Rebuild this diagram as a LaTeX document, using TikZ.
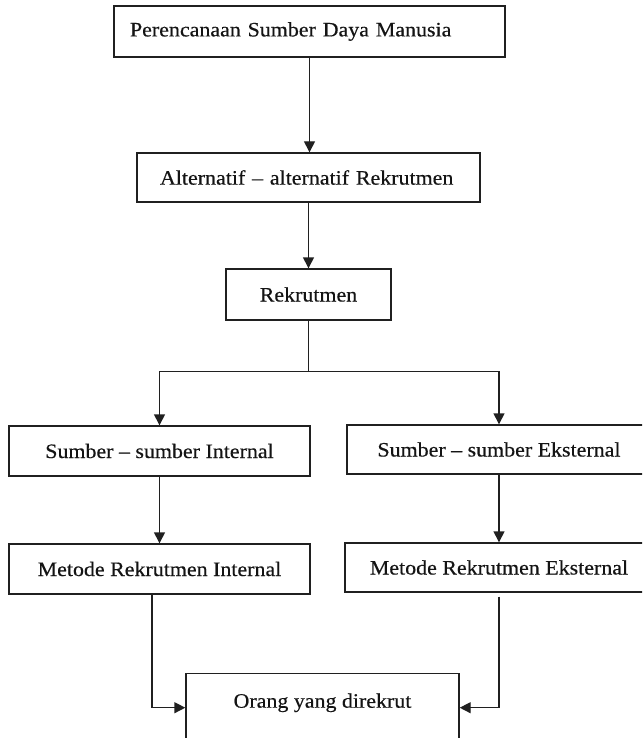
\documentclass[tikz,border=0pt]{standalone}
\usepackage{fontspec}
\setmainfont[FakeStretch=1.07, FakeBold=0.4]{Liberation Serif}
\usepackage{tikz}
\usetikzlibrary{arrows.meta}
\definecolor{ink}{HTML}{141414}
\definecolor{edge}{HTML}{202020}

\begin{document}
\begin{tikzpicture}[x=1pt, y=-1pt,
  box/.style={draw=edge, line width=1.4pt, text=ink, inner sep=0pt, font=\fontsize{20.5}{24}\selectfont},
  link/.style={draw=edge, line width=1.4pt},
  flow/.style={link, -{Triangle[length=11pt,width=11pt]}}]
  \useasboundingbox (0,0) rectangle (642,738);
  \clip (0,0) rectangle (642,738);
  \node[box, inner xsep=16pt, text width=359pt, minimum height=51pt, align=left] (plan) at (309.5,31.5) {Perencanaan Sumber Daya Manusia};
  \node[box, inner xsep=23pt, text width=297pt, minimum height=49pt, align=left] (alt) at (308.5,177.5) {Alternatif -- alternatif Rekrutmen};
  \node[box, minimum width=165pt, minimum height=51pt] (rec) at (308.5,294.5) {Rekrutmen};
  \node[box, minimum width=301pt, minimum height=50pt] (srcin) at (159.5,451) {Sumber -- sumber Internal};
  \node[box, minimum width=304pt, minimum height=49pt] (srcex) at (499,449.5) {Sumber -- sumber Eksternal};
  \node[box, minimum width=301pt, minimum height=50pt] (metin) at (159.5,569) {Metode Rekrutmen Internal};
  \node[box, minimum width=308pt, minimum height=49pt] (metex) at (499,567.5) {Metode Rekrutmen Eksternal};
  \node[box, anchor=north, minimum width=273pt, inner ysep=20pt, text height=14pt, text depth=40pt] (hired) at (322.5,673) {Orang yang direkrut};
  \coordinate (fork) at ([yshift=-51pt]rec.south);
  \draw[flow] (plan.south) -- (plan.south |- alt.north);
  \draw[flow] (alt.south) -- (alt.south |- rec.north);
  \draw[link] (rec.south) -- (fork);
  \draw[flow] (fork) -| (srcin.north);
  \draw[flow] (fork) -| (srcex.north);
  \draw[flow] (srcin) -- (metin);
  \draw[flow] (srcex) -- (metex);
  \draw[flow] ([xshift=-7.5pt]metin.south) |- (hired.base west);
  \draw[flow] ([yshift=-4pt]metex.south) |- (hired.base east);
\end{tikzpicture}
\end{document}
